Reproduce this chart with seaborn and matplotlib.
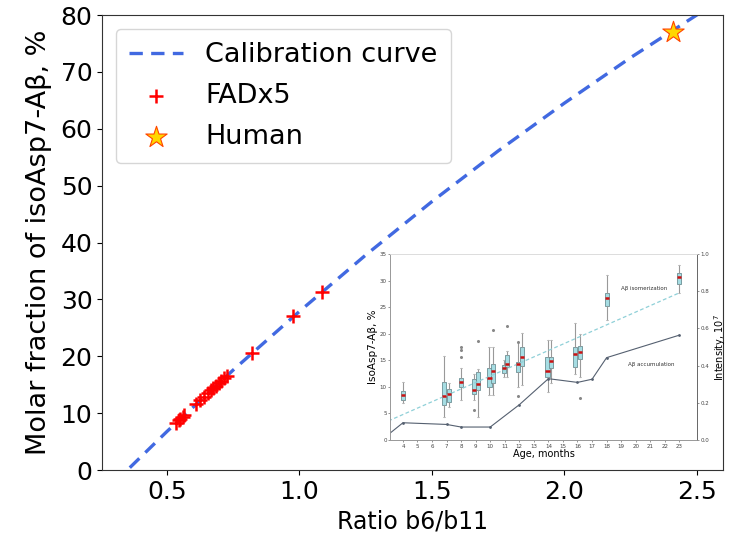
import numpy as np
import pandas as pd
import matplotlib
matplotlib.use("Agg")
import matplotlib.pyplot as plt
import seaborn as sns

# ---------------- main chart data ----------------
calib_ratio = [0.30, 0.35, 0.50, 0.75, 1.00, 1.25, 1.50, 1.75, 2.00, 2.25, 2.50, 2.60]
calib_frac = [-2.2, 0.0, 6.8, 17.6, 27.9, 37.8, 47.2, 56.1, 64.5, 72.5, 80.0, 82.8]

fad_ratio = [0.535, 0.545, 0.55, 0.56, 0.565, 0.61, 0.625, 0.64, 0.655, 0.665,
             0.675, 0.685, 0.695, 0.705, 0.715, 0.725, 0.82, 0.977, 1.084]
fad_frac = [8.3, 8.8, 9.0, 9.4, 9.7, 11.6, 12.3, 12.9, 13.6, 14.0,
            14.4, 14.8, 15.3, 15.7, 16.1, 16.5, 20.5, 27.0, 31.3]

human_ratio = [2.41]
human_frac = [77.0]

# ---------------- inset data ----------------
box_pos = [4.0, 6.84, 7.18, 8.0, 8.9, 9.14, 9.95, 10.16, 10.95, 11.18,
           11.93, 12.16, 13.94, 14.17, 15.85, 16.15, 18.0, 23.0]
box_med = [8.5, 8.3, 8.7, 10.9, 9.5, 10.5, 11.6, 13.0, 13.5, 14.4,
           14.3, 15.7, 13.0, 14.9, 16.2, 16.6, 26.8, 30.7]
box_q1 = [7.5, 6.6, 7.2, 10.0, 8.7, 9.4, 10.0, 10.7, 12.7, 13.7,
          12.9, 13.9, 11.9, 13.5, 13.8, 15.2, 25.2, 29.4]
box_q3 = [9.3, 11.0, 9.7, 11.7, 11.4, 12.9, 13.5, 14.4, 14.1, 16.0,
          14.7, 17.6, 15.6, 15.7, 17.6, 17.7, 27.7, 31.5]
box_lo = [6.9, 4.4, 6.3, 7.5, 7.5, 4.4, 8.5, 8.5, 11.9, 11.9,
          10.0, 10.4, 9.1, 10.7, 12.4, 11.9, 22.6, 27.6]
box_hi = [11.0, 15.8, 10.7, 13.5, 12.5, 13.3, 17.6, 17.6, 15.1, 16.7,
          18.5, 20.2, 18.8, 18.9, 22.1, 19.9, 31.1, 32.9]
box_fliers = [[], [], [], [15.7, 17.0, 17.5], [5.6], [18.7], [], [20.7], [], [21.5],
              [8.2, 18.5], [], [], [], [], [8.0], [], []]

iso_age = [3.0, 23.0]
iso_val = [3.6, 27.7]

acc_age = [3.0, 4, 7, 8, 10, 12, 14, 16, 17, 18, 23]
acc_int = [0.03, 0.093, 0.084, 0.07, 0.07, 0.19, 0.33, 0.31, 0.327, 0.443, 0.564]

age_ticks = list(range(4, 24))

# ---------------- figure ----------------
fig = plt.figure(figsize=(7.35, 5.36), dpi=100)
ax = fig.add_axes([0.139, 0.123, 0.845, 0.849])

calib_df = pd.DataFrame({"x": calib_ratio, "y": calib_frac})
sns.lineplot(data=calib_df, x="x", y="y", ax=ax, color="#4169E1",
             linestyle=(0, (4.0, 2.5)), linewidth=2.4, label="Calibration curve",
             sort=False, zorder=2)
fad_df = pd.DataFrame({"x": fad_ratio, "y": fad_frac})
sns.scatterplot(data=fad_df, x="x", y="y", ax=ax, marker="+", s=110,
                color="red", linewidth=1.8, label="FADx5", zorder=3)
hum_df = pd.DataFrame({"x": human_ratio, "y": human_frac})
sns.scatterplot(data=hum_df, x="x", y="y", ax=ax, marker="*", s=260,
                color="gold", edgecolor="orangered", linewidth=0.8,
                label="Human", zorder=4)

ax.set_xlim(0.255, 2.6)
ax.set_ylim(0, 80)
ax.set_xticks([0.5, 1.0, 1.5, 2.0, 2.5])
ax.set_yticks(range(0, 81, 10))
ax.tick_params(labelsize=18)
ax.set_xlabel("Ratio b6/b11", fontsize=17)
ax.set_ylabel("Molar fraction of isoAsp7-Aβ, %", fontsize=19.5, labelpad=6)
for s in ax.spines.values():
    s.set_color("#333333")
leg = ax.legend(loc="upper left", fontsize=19.5, borderpad=0.5,
                handlelength=2.0, labelspacing=0.55, borderaxespad=0.5)

# ---------------- inset ----------------
ins = fig.add_axes([0.531, 0.179, 0.417, 0.347])
stats = []
for i in range(len(box_pos)):
    stats.append(dict(med=box_med[i], q1=box_q1[i], q3=box_q3[i],
                      whislo=box_lo[i], whishi=box_hi[i], fliers=box_fliers[i]))
ins.bxp(stats, positions=box_pos, widths=0.28, patch_artist=True,
        manage_ticks=False,
        boxprops=dict(facecolor="#a6dde3", edgecolor="#6a8f94", linewidth=0.6),
        medianprops=dict(color="#cc1111", linewidth=1.8),
        whiskerprops=dict(color="#999999", linewidth=0.8),
        capprops=dict(color="#bbbbbb", linewidth=0.6),
        flierprops=dict(marker="o", markersize=1.2, markerfacecolor="#888888",
                        markeredgecolor="#888888"))
iso_df = pd.DataFrame({"age": iso_age, "val": iso_val})
sns.lineplot(data=iso_df, x="age", y="val", ax=ins, color="#8fd0d8",
             linestyle=(0, (3, 2)), linewidth=0.9)
ins.set_xlim(3.13, 24.2)
ins.set_ylim(0, 35)
ins.set_yticks(range(0, 36, 5))
ins.set_xticks(age_ticks)
ins.tick_params(labelsize=4, length=1.5, width=0.4, pad=1, colors="#444444")
ins.set_xlabel("Age, months", fontsize=7, labelpad=0)
ins.set_ylabel("IsoAsp7-Aβ, %", fontsize=7.5, labelpad=1)
ins.text(19.0, 28.2, "Aβ isomerization", fontsize=4, color="#333333")
ins.text(19.5, 14.0, "Aβ accumulation", fontsize=4, color="#333333")

ins2 = ins.twinx()
acc_df = pd.DataFrame({"age": acc_age, "val": acc_int})
sns.lineplot(data=acc_df, x="age", y="val", ax=ins2, color="#556070",
             linewidth=0.8, marker="o", markersize=2, markeredgewidth=0)
ins2.set_xlim(3.13, 24.2)
ins2.set_ylim(0, 1.0)
ins2.set_yticks([0.0, 0.2, 0.4, 0.6, 0.8, 1.0])
ins2.tick_params(labelsize=4, length=1.5, width=0.4, pad=1, colors="#444444")
ins2.set_ylabel("Intensity, 10$^7$", fontsize=7, labelpad=2)
ins2.set_xlabel("")
for a in (ins, ins2):
    for side, s in a.spines.items():
        s.set_linewidth(0.6)
        s.set_color("#999999" if side != "right" else "#666666")
    a.spines["top"].set_color("#dddddd")

fig.savefig("out.png", dpi=100)
